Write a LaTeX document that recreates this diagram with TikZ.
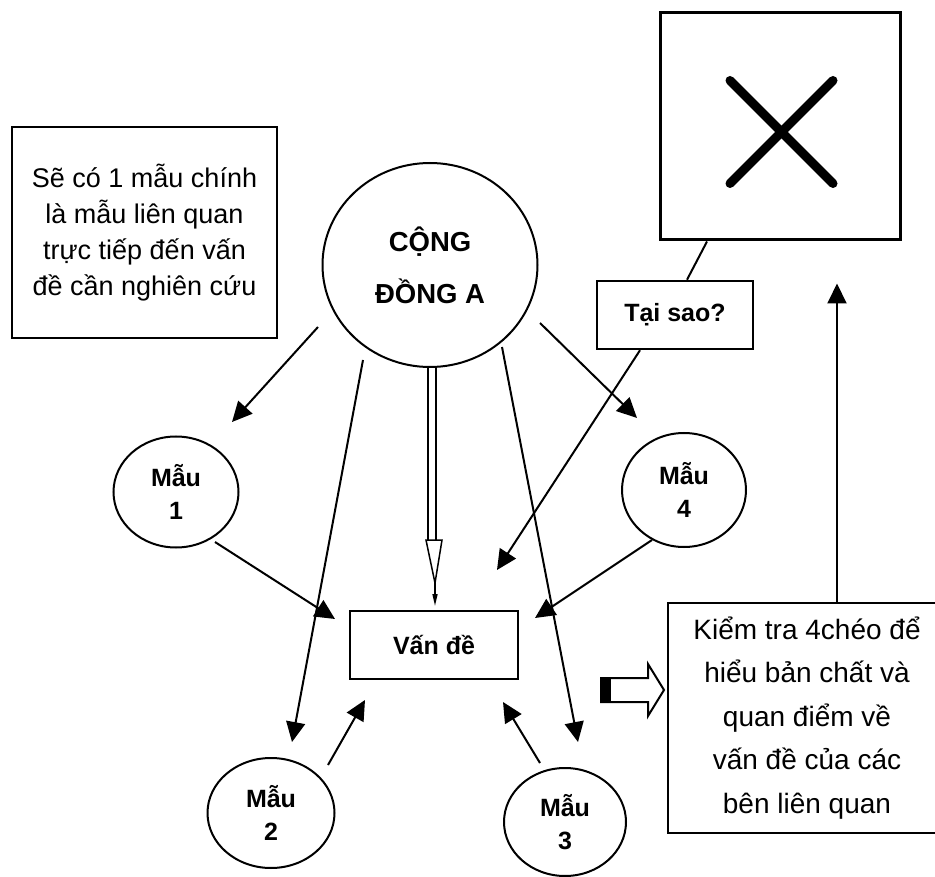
\documentclass[tikz,border=0pt]{standalone}
\usepackage{fontspec}
\setmainfont{Liberation Sans}
\usetikzlibrary{shapes.geometric,arrows.meta,calc}
\begin{document}
\begin{tikzpicture}[x=1pt,y=-1pt,
  box/.style={draw,line width=2.5pt,rectangle,inner sep=0pt,align=center},
  oval/.style={draw,line width=2pt,ellipse,inner sep=0pt,align=center,font=\fontsize{25}{33}\selectfont\bfseries},
  arr/.style={line width=2pt,-{Triangle[length=20pt,width=19pt]}},
  ln/.style={line width=2pt}]
\clip (0,0) rectangle (935,877);
\fill[white] (0,0) rectangle (935,877);

% nodes
\node[box,minimum width=265pt,minimum height=211pt,font=\fontsize{27}{36}\selectfont] (lbox) at (144.5,232.5)
  {Sẽ có 1 mẫu chính\\là mẫu liên quan\\trực tiếp đến vấn\\đề cần nghiên cứu};
\node[draw,line width=2pt,ellipse,inner sep=0pt,minimum width=215pt,minimum height=204pt,align=center,
  font=\fontsize{27.5}{52}\selectfont\bfseries] (big) at (430,265) {CỘNG\\ĐỒNG A};
\node[box,line width=3pt,minimum width=240pt,minimum height=227pt] (xbox) at (780,126.5) {};
\draw[line width=9pt,line cap=round] ([shift={(-50,-46)}]xbox.center) -- ([shift={(53,57)}]xbox.center);
\draw[line width=9pt,line cap=round] ([shift={(53,-46)}]xbox.center) -- ([shift={(-50,57)}]xbox.center);
\node[box,minimum width=156pt,minimum height=68pt,font=\fontsize{25}{30}\selectfont\bfseries] (taisao) at (675,315) {Tại sao?};
\node[box,minimum width=168pt,minimum height=68pt,font=\fontsize{25}{30}\selectfont\bfseries] (prob) at (434,645) {Vấn đề};
\node[box,minimum width=278pt,minimum height=230pt,font=\fontsize{28}{43.5}\selectfont] (rbox) at (807,718)
  {Kiểm tra 4chéo để\\hiểu bản chất và\\quan điểm về\\vấn đề của các\\bên liên quan};
\node[oval,minimum width=125pt,minimum height=111pt] (m1) at (176,492) {Mẫu\\1};
\node[oval,minimum width=127pt,minimum height=110pt] (m2) at (271,813) {Mẫu\\2};
\node[oval,minimum width=122pt,minimum height=108pt] (m3) at (565,822) {Mẫu\\3};
\node[oval,minimum width=124pt,minimum height=114pt] (m4) at (684,490) {Mẫu\\4};

% connectors from the community circle
\draw[arr] ([shift={(-112,62)}]big.center) -- ([shift={(56,-70)}]m1.center);
\draw[arr] ([shift={(-67,95)}]big.center) -- ([shift={(21,-71)}]m2.center);
\draw[arr] ([shift={(72,82)}]big.center) -- ([shift={(13,-80)}]m3.center);
\draw[arr] ([shift={(110,58)}]big.center) -- ([shift={(-47,-72)}]m4.center);

% samples to problem
\draw[arr] ([shift={(39,50)}]m1.center) -- ([shift={(-99,-26)}]prob.center);
\draw[arr] ([shift={(57,-48)}]m2.center) -- ([shift={(-69,55)}]prob.center);
\draw[arr] ([shift={(-25,-59)}]m3.center) -- ([shift={(69,57)}]prob.center);
\draw[arr] ([shift={(-32,50)}]m4.center) -- ([shift={(101,-27)}]prob.center);

% why
\draw[ln] ([xshift=-73pt]xbox.south) -- ([xshift=12pt]taisao.north);
\draw[arr] ([xshift=-35pt]taisao.south) -- ([shift={(63,-75)}]prob.center);

% check box to X box
\draw[arr] ([xshift=30pt]rbox.north) -- ([shift={(57,42)}]xbox.south);

% double-line arrow from community to problem
\draw[line width=2pt] ([xshift=-2pt]big.south) -- ++(0,172);
\draw[line width=2pt] ([xshift=6pt]big.south) -- ++(0,172);
\draw[line width=1.5pt,fill=white] ([shift={(-4,172)}]big.south) -- ([shift={(5,215)}]big.south) -- ([shift={(12,172)}]big.south) -- cycle;
\draw[line width=1.5pt,-{Triangle[length=12pt,width=5pt]}] ([shift={(5,215)}]big.south) -- ([shift={(5,238)}]big.south);

% hollow arrow toward the check box
\draw[line width=2pt,fill=white] (601,678) -- (648,678) -- (648,664) -- (664,690) -- (648,716) -- (648,702) -- (601,702) -- cycle;
\fill (601,677) rectangle (611,703);
\end{tikzpicture}
\end{document}
